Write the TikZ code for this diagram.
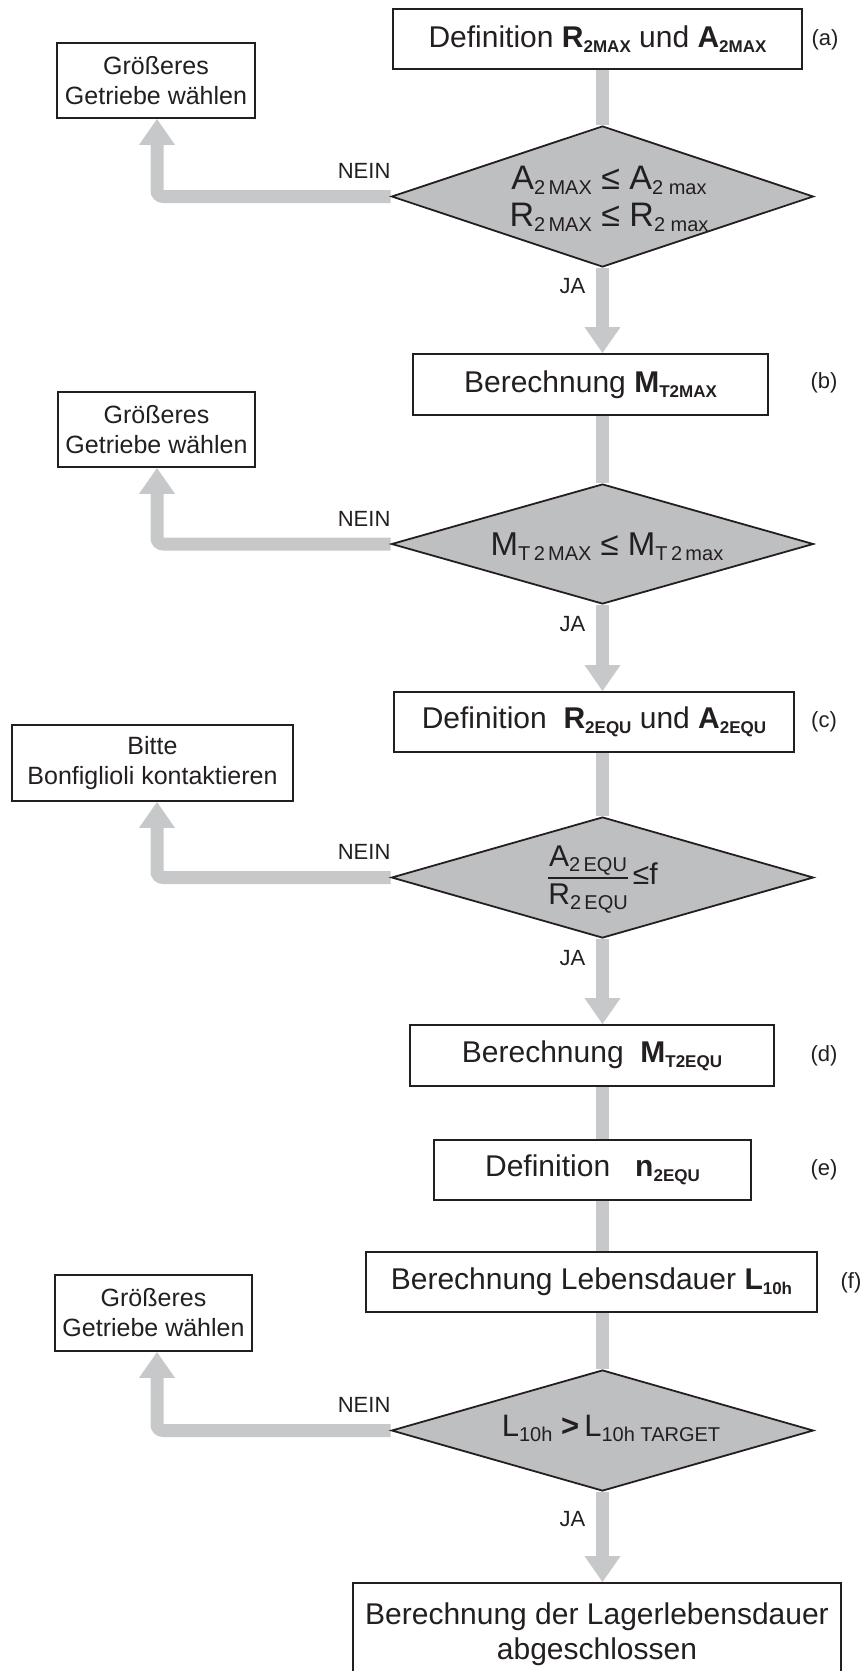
\documentclass[tikz,border=0pt]{standalone}
\usepackage{fontspec}
\setmainfont{Liberation Sans}
\usetikzlibrary{arrows.meta,shapes.geometric,backgrounds}
\definecolor{shaftgray}{RGB}{199,200,202}
\definecolor{diagray}{RGB}{190,191,193}
\definecolor{ink}{RGB}{35,31,32}
\newcommand{\bsub}[1]{\raisebox{-5pt}{\fontsize{17}{17}\selectfont\bfseries #1}}
\newcommand{\dsub}[1]{\raisebox{-5pt}{\fontsize{20}{20}\selectfont #1}}
\begin{document}
\begin{tikzpicture}[x=1pt,y=-1pt,
  every node/.style={text=ink},
  box/.style={draw=ink, line width=1.6pt, fill=white, inner sep=0pt, align=center, font=\fontsize{30}{35}\selectfont},
  side/.style={box, font=\fontsize{25}{30}\selectfont},
  dia/.style={diamond, draw=ink, line width=1.8pt, fill=diagray, inner sep=0pt},
  dtext/.style={align=center, inner sep=0pt, font=\fontsize{33}{37}\selectfont},
  shaft/.style={draw=shaftgray, line width=13pt},
  arr/.style={shaft, -{Triangle[width=34pt,length=26pt]}},
  nein/.style={shaft, rounded corners=6pt, -{Triangle[width=34pt,length=26pt]}},
  lbl/.style={font=\fontsize{22}{26}\selectfont, inner sep=0pt}]
\useasboundingbox (0,0) rectangle (862,1671);

% main boxes
\node[box, minimum width=409pt, minimum height=60pt] (a) at (597.5,39) {Definition \textbf{R}\bsub{2MAX} und \textbf{A}\bsub{2MAX}};
\node[box, minimum width=355pt, minimum height=61pt] (b) at (590.5,384.5) {Berechnung \textbf{M}\bsub{T2MAX}};
\node[box, minimum width=400pt, minimum height=60pt] (c) at (594,722) {Definition\ \ \textbf{R}\bsub{2EQU} und \textbf{A}\bsub{2EQU}};
\node[box, minimum width=364pt, minimum height=61pt] (d) at (592,1055.5) {Berechnung\ \ \textbf{M}\bsub{T2EQU}};
\node[box, minimum width=317pt, minimum height=60pt] (e) at (592.5,1170) {Definition\ \ \ \textbf{n}\bsub{2EQU}};
\node[box, minimum width=451pt, minimum height=60pt] (f) at (591.5,1282) {Berechnung Lebensdauer \textbf{L}\bsub{10h}};
\node[box, minimum width=488pt, minimum height=103pt] (g) at (597,1634.5) {Berechnung der Lagerlebensdauer\\abgeschlossen};

% side boxes
\node[side, minimum width=198pt, minimum height=75pt] (n1) at (156,80.5) {Größeres\\Getriebe wählen};
\node[side, minimum width=197pt, minimum height=75pt] (n2) at (156.5,429.5) {Größeres\\Getriebe wählen};
\node[side, minimum width=281pt, minimum height=76pt] (n3) at (152.5,763) {Bitte\\Bonfiglioli kontaktieren};
\node[side, minimum width=197pt, minimum height=76pt] (n4) at (153.5,1313) {Größeres\\Getriebe wählen};

% decisions
\node[dia, minimum width=422pt, minimum height=141pt] (d1) at (602.5,196.5) {};
\node[dia, minimum width=422pt, minimum height=120pt] (d2) at (602.5,544) {};
\node[dia, minimum width=422pt, minimum height=121pt] (d3) at (602.5,877.5) {};
\node[dia, minimum width=422pt, minimum height=121pt] (d4) at (602.5,1430.5) {};

\node[dtext, font=\fontsize{34}{37}\selectfont] (t1) at (609,199) {A\dsub{2\,MAX} ≤ A\dsub{2 max}\\R\dsub{2\,MAX} ≤ R\dsub{2 max}};
\node[dtext] (t2) at (607,547) {M\dsub{T\,2\,MAX} ≤ M\dsub{T\,2\,max}};
\node[dtext, font=\fontsize{30}{36}\selectfont] (t3) at (603,878) {\setlength{\arrayrulewidth}{2pt}$\vcenter{\hbox{\begin{tabular}{@{}c@{}}A\dsub{2\,EQU}\\\hline R\dsub{2\,EQU}\end{tabular}}}$\,≤f};
\node[dtext, font=\fontsize{31}{36}\selectfont] (t4) at (611,1428) {L\dsub{10h}\ \textbf{>}\,L\dsub{10h TARGET}};

% labels
\node[lbl] (la) at (825,40) {(a)};
\node[lbl] (lb) at (824,383) {(b)};
\node[lbl] (lc) at (824,722) {(c)};
\node[lbl] (ld) at (824,1056) {(d)};
\node[lbl] (le) at (824,1170) {(e)};
\node[lbl] (lf) at (851,1283) {(f)};

\node[lbl, anchor=base east] (no1) at ([yshift=18pt]d1.west) {NEIN};
\node[lbl, anchor=base east] (no2) at ([yshift=18pt]d2.west) {NEIN};
\node[lbl, anchor=base east] (no3) at ([yshift=18pt]d3.west) {NEIN};
\node[lbl, anchor=base east] (no4) at ([yshift=18pt]d4.west) {NEIN};

\node[lbl, anchor=east] (ja1) at ([xshift=-17pt,yshift=-18pt]d1.south) {JA};
\node[lbl, anchor=east] (ja2) at ([xshift=-17pt,yshift=-19pt]d2.south) {JA};
\node[lbl, anchor=east] (ja3) at ([xshift=-17pt,yshift=-19pt]d3.south) {JA};
\node[lbl, anchor=east] (ja4) at ([xshift=-17pt,yshift=-27pt]d4.south) {JA};

% connectors
\begin{scope}[on background layer]
\draw[shaft] (a.south -| d1.north) -- (d1.north);
\draw[arr] (d1.south) -- (d1.south |- b.north);
\draw[shaft] (b.south -| d2.north) -- (d2.north);
\draw[arr] (d2.south) -- (d2.south |- c.north);
\draw[shaft] (c.south -| d3.north) -- (d3.north);
\draw[arr] (d3.south) -- (d3.south |- d.north);
\draw[shaft] (d.south -| d3.south) -- (d3.south |- e.north);
\draw[shaft] (e.south -| d3.south) -- (d3.south |- f.north);
\draw[shaft] (f.south -| d4.north) -- (d4.north);
\draw[arr] (d4.south) -- (d4.south |- g.north);
\draw[nein] (d1.west) -| ([xshift=1pt]n1.south);
\draw[nein] (d2.west) -| ([xshift=0.5pt]n2.south);
\draw[nein] (d3.west) -| ([xshift=4.5pt]n3.south);
\draw[nein] (d4.west) -| ([xshift=3.5pt]n4.south);
\end{scope}
\end{tikzpicture}
\end{document}
